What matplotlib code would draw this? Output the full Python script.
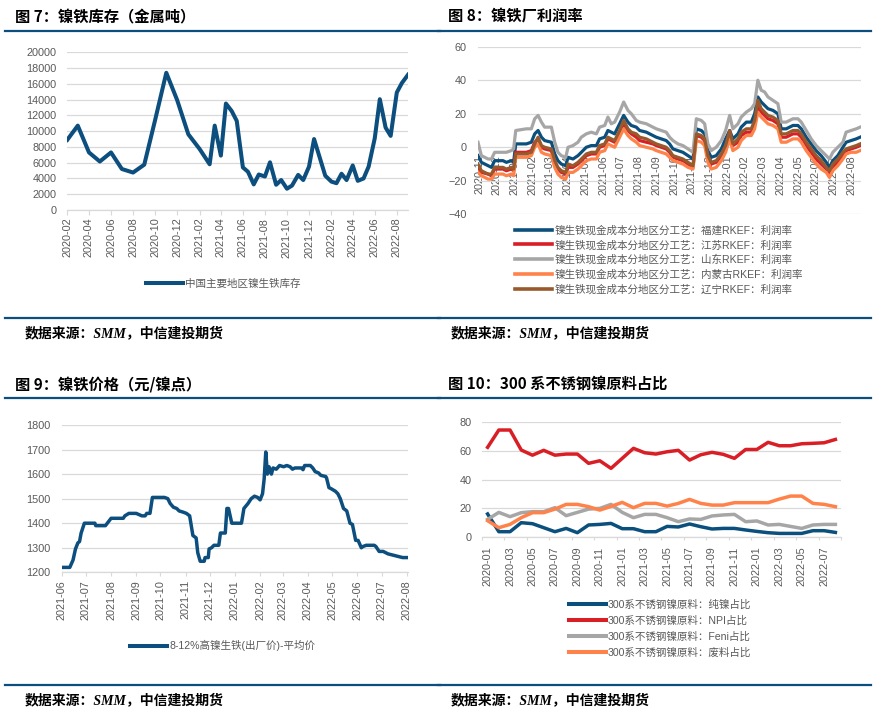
import matplotlib
matplotlib.use('Agg')
import matplotlib.pyplot as plt
import numpy as np
import pandas as pd
from matplotlib.lines import Line2D

plt.rcParams['font.family'] = ['Liberation Sans', 'Noto Sans CJK SC', 'DejaVu Sans']
CJK = ['Noto Sans CJK SC', 'DejaVu Sans']

# ---------------- data ----------------
# Fig 7: nickel pig iron inventory (metal tons)
p7_dates = ['2020-02-01', '2020-03-01', '2020-04-01', '2020-05-01', '2020-06-01', '2020-07-01',
            '2020-08-01', '2020-09-01', '2020-10-01', '2020-11-01', '2020-12-01', '2021-01-01',
            '2021-02-01', '2021-03-01', '2021-03-15', '2021-04-01', '2021-04-15', '2021-05-01',
            '2021-05-15', '2021-06-01', '2021-06-15', '2021-07-01', '2021-07-15', '2021-08-01',
            '2021-08-15', '2021-09-01', '2021-09-15', '2021-10-01', '2021-10-15', '2021-11-01',
            '2021-11-15', '2021-12-01', '2021-12-15', '2022-01-01', '2022-01-15', '2022-02-01',
            '2022-02-15', '2022-03-01', '2022-03-15', '2022-04-01', '2022-04-15', '2022-05-01',
            '2022-05-15', '2022-06-01', '2022-06-15', '2022-07-01', '2022-07-15', '2022-08-01',
            '2022-08-15', '2022-09-01']
p7_inventory = [8900, 10700, 7300, 6150, 7300, 5200, 4750, 5750, 11400, 17400, 13950, 9600,
                7750, 5800, 10700, 6900, 13500, 12550, 11300, 5400, 4850, 3250, 4500, 4250,
                6050, 3200, 3800, 2700, 3100, 4450, 3800, 5500, 9000, 6450, 4350, 3600,
                3400, 4600, 3800, 5650, 3700, 4000, 5500, 9100, 14050, 10450, 9400, 14900,
                16100, 17150]
p7_label = '中国主要地区镍生铁库存'
p7_ticks = ['2020-02', '2020-04', '2020-06', '2020-08', '2020-10', '2020-12', '2021-02',
            '2021-04', '2021-06', '2021-08', '2021-10', '2021-12', '2022-02', '2022-04',
            '2022-06', '2022-08']

# Fig 8: profit margins (months since 2020-11)
p8_month = [-0.06, 0.13, 0.51, 0.70, 0.88, 1.35, 1.54, 1.82, 1.95, 2.07, 2.67, 2.95, 3.14, 3.33,
            3.52, 3.70, 4.08, 4.27, 4.45, 4.64, 4.89, 5.02, 5.30, 5.58, 5.77, 6.05, 6.33, 6.62,
            6.80, 7.09, 7.27, 7.46, 7.65, 7.93, 8.16, 8.40, 8.59, 8.87, 9.06, 9.44, 9.81, 10.00,
            10.28, 10.56, 10.75, 10.94, 11.22, 11.50, 11.79, 12.07, 12.26, 12.54, 12.73, 12.91,
            13.10, 13.38, 13.67, 13.91, 14.14, 14.32, 14.61, 14.79, 15.08, 15.36, 15.55, 15.73,
            15.92, 16.11, 16.30, 16.58, 16.86, 17.05, 17.33, 17.52, 17.71, 17.99, 18.18, 18.46,
            18.74, 19.02, 19.30, 19.59, 19.77, 19.96, 20.24, 20.53, 20.71, 20.99, 21.28, 21.50]
p8_fujian = [-5, -9, -11, -12, -8, -8, -9, -8, -9, 2, 2, 3, 8, 10, 6, 4, 3, -4, -8, -10,
             -11, -6, -7, -5, -3, 0, 1, 1, 5, 6, 10, 9, 8, 14, 19, 15, 13, 12, 10, 9,
             7, 6, 5, 4, 2, -1, -2, -3, -5, -7, 11, 10, 8, -2, -6, -5, -1, 5, 10, 5,
             8, 12, 15, 15, 20, 30, 27, 25, 23, 22, 20, 11, 11, 12, 13, 13, 11, 6, 2, -2,
             -5, -9, -12, -8, -5, 0, 3, 4, 5, 6]
p8_jiangsu = [-12, -15, -16, -17, -13, -13, -14, -13, -14, -3, -3, -2, 3, 5, 0, -1, -2, -9, -13, -15,
              -16, -12, -12, -10, -8, -5, -4, -4, 0, 1, 5, 4, 3, 9, 14, 10, 8, 6, 4, 3,
              2, 1, 0, -1, -3, -6, -7, -8, -10, -12, 7, 6, 4, -6, -10, -9, -5, 0, 8, 1,
              3, 7, 9, 9, 14, 24, 21, 19, 17, 16, 14, 6, 6, 7, 8, 8, 6, 1, -3, -7,
              -10, -13, -16, -12, -9, -5, -2, -1, 0, 1]
p8_shandong = [3, -5, -7, -7, -3, -3, -3, -2, -1, 10, 11, 11, 17, 19, 15, 12, 12, 3, -3, -5,
               -6, 0, 1, 3, 6, 8, 9, 8, 12, 13, 18, 14, 15, 21, 27, 22, 20, 16, 15, 14,
               12, 11, 10, 9, 6, 4, 2, 1, -1, -3, 17, 16, 14, 2, -2, 0, 4, 10, 19, 11,
               14, 18, 21, 23, 26, 40, 34, 33, 30, 28, 26, 15, 15, 16, 17, 17, 15, 10, 5, 1,
               -2, -5, -7, -3, 0, 3, 9, 10, 11, 12]
p8_neimeng = [-15, -17, -19, -19, -16, -16, -17, -16, -17, -6, -6, -5, 0, 2, -3, -4, -5, -12, -16, -18,
              -19, -15, -15, -13, -11, -8, -7, -7, -3, -2, 2, 1, 0, 6, 11, 7, 5, 3, 1, 0,
              -1, -2, -3, -4, -6, -8, -9, -10, -12, -13, 4, 3, 1, -9, -13, -12, -8, -3, 5, -2,
              0, 4, 7, 7, 11, 21, 18, 16, 14, 13, 11, 3, 3, 4, 5, 5, 3, -2, -6, -10,
              -13, -15, -18, -14, -11, -7, -4, -3, -3, -2]
p8_liaoning = [-10, -14, -16, -16, -12, -12, -13, -12, -13, -4, -4, -3, 2, 6, 1, 0, -1, -8, -12, -14,
               -15, -10, -11, -9, -7, -4, -3, -3, 1, 2, 6, 5, 4, 10, 16, 11, 9, 8, 6, 5,
               3, 2, 1, 0, -2, -5, -6, -7, -9, -11, 8, 7, 5, -5, -9, -8, -4, 1, 10, 2,
               5, 9, 11, 11, 16, 28, 23, 21, 19, 18, 16, 8, 8, 9, 10, 10, 8, 3, -1, -5,
               -8, -12, -14, -10, -7, -3, -1, 0, 1, 2]
p8_labels = ['镍生铁现金成本分地区分工艺：福建RKEF：利润率',
             '镍生铁现金成本分地区分工艺：江苏RKEF：利润率',
             '镍生铁现金成本分地区分工艺：山东RKEF：利润率',
             '镍生铁现金成本分地区分工艺：内蒙古RKEF：利润率',
             '镍生铁现金成本分地区分工艺：辽宁RKEF：利润率']
p8_ticks = ['2020-11', '2020-12', '2021-01', '2021-02', '2021-03', '2021-04', '2021-05',
            '2021-06', '2021-07', '2021-08', '2021-09', '2021-10', '2021-11', '2021-12',
            '2022-01', '2022-02', '2022-03', '2022-04', '2022-05', '2022-06', '2022-07', '2022-08']

# Fig 9: NPI price
p9_dates = ['2021-06-01', '2021-06-11', '2021-06-15', '2021-06-18', '2021-06-21', '2021-06-23',
            '2021-06-25', '2021-06-29', '2021-07-12', '2021-07-13', '2021-07-25', '2021-08-01',
            '2021-08-16', '2021-08-18', '2021-08-23', '2021-09-01', '2021-09-08', '2021-09-12',
            '2021-09-14', '2021-09-18', '2021-09-21', '2021-10-06', '2021-10-10', '2021-10-13',
            '2021-10-17', '2021-10-21', '2021-10-24', '2021-10-29', '2021-11-02', '2021-11-06',
            '2021-11-10', '2021-11-14', '2021-11-16', '2021-11-19', '2021-11-24', '2021-11-25',
            '2021-11-29', '2021-11-30', '2021-12-03', '2021-12-06', '2021-12-12', '2021-12-14',
            '2021-12-20', '2021-12-22', '2021-12-24', '2021-12-28', '2022-01-09', '2022-01-12',
            '2022-01-17', '2022-01-21', '2022-01-25', '2022-01-29', '2022-02-01', '2022-02-04',
            '2022-02-06', '2022-02-08', '2022-02-10', '2022-02-12', '2022-02-15', '2022-02-17',
            '2022-02-21', '2022-02-25', '2022-03-02', '2022-03-06', '2022-03-10', '2022-03-13',
            '2022-03-16', '2022-03-24', '2022-03-26', '2022-03-28', '2022-04-04', '2022-04-07',
            '2022-04-10', '2022-04-14', '2022-04-17', '2022-04-23', '2022-04-24', '2022-04-27',
            '2022-04-30', '2022-05-05', '2022-05-08', '2022-05-11', '2022-05-15', '2022-05-19',
            '2022-05-21', '2022-05-23', '2022-05-26', '2022-05-30', '2022-06-02', '2022-06-06',
            '2022-06-08', '2022-06-12', '2022-06-22', '2022-06-24', '2022-06-28', '2022-07-03',
            '2022-07-09', '2022-07-15', '2022-07-21', '2022-07-27', '2022-08-02']
p9_price = [1220, 1220, 1250, 1295, 1320, 1325, 1360, 1400, 1400, 1390,
            1390, 1420, 1420, 1430, 1440, 1440, 1430, 1430, 1440, 1440,
            1505, 1505, 1500, 1480, 1465, 1460, 1450, 1445, 1440, 1430,
            1350, 1340, 1280, 1245, 1245, 1260, 1260, 1295, 1300, 1310,
            1310, 1360, 1360, 1460, 1460, 1400, 1400, 1460, 1480, 1500,
            1510, 1505, 1495, 1520, 1580, 1690, 1600, 1630, 1600, 1625,
            1620, 1635, 1630, 1635, 1630, 1620, 1625, 1625, 1618, 1635,
            1635, 1625, 1610, 1605, 1595, 1590, 1585, 1545, 1540, 1530,
            1520, 1500, 1460, 1450, 1425, 1400, 1395, 1330, 1330, 1300,
            1305, 1310, 1310, 1305, 1285, 1285, 1275, 1270, 1265, 1260, 1260]
p9_label = '8-12%高镍生铁(出厂价)-平均价'

# Fig 10: 300-series nickel raw material shares
p10_months = ['2020-01', '2020-02', '2020-03', '2020-04', '2020-05', '2020-06', '2020-07', '2020-08',
              '2020-09', '2020-10', '2020-11', '2020-12', '2021-01', '2021-02', '2021-03', '2021-04',
              '2021-05', '2021-06', '2021-07', '2021-08', '2021-09', '2021-10', '2021-11', '2021-12',
              '2022-01', '2022-02', '2022-03', '2022-04', '2022-05', '2022-06', '2022-07', '2022-08']
p10_pure = [15.9, 3.5, 3.5, 9.8, 9.1, 6.3, 3.5, 5.8, 2.8, 8.2, 8.6, 9.3, 5.6, 5.6, 3.5, 3.5,
            7.2, 6.8, 8.9, 7.0, 5.4, 5.8, 5.8, 4.7, 3.7, 2.8, 2.3, 2.3, 2.3, 4.2, 4.2, 3.0]
p10_npi = [62.5, 74.6, 74.6, 60.6, 57.0, 60.4, 57.0, 57.8, 57.8, 51.3, 53.1, 47.8, 54.8, 61.8, 58.7, 57.8,
           59.4, 60.4, 53.6, 57.3, 59.0, 57.6, 54.8, 61.0, 61.0, 66.0, 63.6, 63.6, 65.0, 65.3, 65.7, 68.0]
p10_feni = [12.1, 17.0, 14.0, 16.8, 17.5, 17.5, 20.3, 14.7, 17.0, 19.3, 19.8, 22.6, 17.0, 13.3, 15.6, 15.6,
            13.3, 10.5, 12.4, 12.1, 14.5, 15.2, 15.6, 10.5, 11.0, 8.2, 8.6, 7.2, 5.8, 8.2, 8.6, 8.6]
p10_scrap = [11.2, 6.3, 8.6, 13.3, 16.8, 16.8, 19.3, 22.6, 22.6, 21.0, 18.6, 21.2, 24.0, 20.3, 23.3, 23.3,
             21.4, 23.3, 26.1, 23.3, 22.1, 22.1, 23.8, 23.8, 23.8, 23.8, 26.3, 28.4, 28.4, 23.3, 22.6, 21.0]
p10_labels = ['300系不锈钢镍原料：纯镍占比', '300系不锈钢镍原料：NPI占比',
              '300系不锈钢镍原料：Feni占比', '300系不锈钢镍原料：废料占比']

titles = ['图 7：镍铁库存（金属吨）', '图 8：镍铁厂利润率',
          '图 9：镍铁价格（元/镍点）', '图 10：300 系不锈钢镍原料占比']
source = '数据来源：SMM，中信建投期货'

# ---------------- style ----------------
NAVY = '#0C4E7E'
BLUE = '#0B4F7C'
RED = '#D91E26'
GRAY = '#A6A6A6'
ORANGE = '#FF824A'
BROWN = '#98592D'
GRID = '#D9D9D9'
TXT = '#595959'

W, H = 878, 714
fig = plt.figure(figsize=(W / 100, H / 100), dpi=100)


def fx(x):
    return x / W


def fy(y):
    return 1 - y / H


def rect(l, t, r, b):
    return [fx(l), fy(b), (r - l) / W, (b - t) / H]


# headers / separators / footers
for (x0, x1, ytop, ybot, tx, ty, sx, sy, title) in [
        (5, 440, 31, 318, 15, 16, 25, 333, titles[0]),
        (438, 871, 31, 318, 448, 16, 451, 333, titles[1]),
        (5, 440, 398, 685, 15, 384, 25, 700, titles[2]),
        (438, 871, 398, 685, 448, 384, 451, 700, titles[3])]:
    fig.add_artist(Line2D([fx(x0), fx(x1)], [fy(ytop), fy(ytop)], color=NAVY, lw=1.6))
    fig.add_artist(Line2D([fx(x0), fx(x1)], [fy(ybot), fy(ybot)], color=NAVY, lw=1.6))
    fig.text(fx(tx), fy(ty), title, fontsize=11, fontweight='bold', family=CJK,
             va='center', ha='left', color='black')
    fig.text(fx(sx), fy(sy), source, fontsize=10, fontweight='bold', style='italic',
             family=['Liberation Serif', 'Noto Sans CJK SC'], va='center', ha='left',
             color='black')


def style_axes(ax, ypad):
    for s in ['left', 'right', 'top']:
        ax.spines[s].set_visible(False)
    ax.spines['bottom'].set_color(GRID)
    ax.spines['bottom'].set_linewidth(0.9)
    ax.grid(axis='y', color=GRID, lw=0.9)
    ax.set_axisbelow(True)
    ax.tick_params(axis='y', length=0, pad=ypad, labelsize=7.8, labelcolor=TXT)
    ax.tick_params(axis='x', labelsize=7.8, labelcolor=TXT, color=GRID)


def legend(handles, labels, cx, cy, spacing):
    fig.legend(handles, labels, loc='center', bbox_to_anchor=(fx(cx), fy(cy)),
               frameon=False, borderpad=0, handlelength=3.5, handletextpad=0.2,
               labelspacing=spacing, labelcolor=TXT,
               prop={'size': 7.6, 'family': ['Liberation Sans', 'Noto Sans CJK SC']})


# ---------------- Fig 7 ----------------
ax7 = fig.add_axes(rect(67.3, 52.3, 408, 210))
d7 = pd.to_datetime(p7_dates)
ax7.plot(d7, p7_inventory, color=NAVY, lw=2.9, solid_joinstyle='round')
ax7.set_ylim(0, 20000)
ax7.set_yticks(range(0, 20001, 2000))
ax7.set_xlim(pd.Timestamp('2020-02-01'), pd.Timestamp('2022-09-01'))
ax7.set_xticks(pd.to_datetime([t + '-01' for t in p7_ticks]))
ax7.set_xticklabels(p7_ticks, rotation=90)
style_axes(ax7, 7.6)
ax7.tick_params(axis='x', length=3.5, pad=2)
legend([Line2D([], [], color=NAVY, lw=2.9)], [p7_label], 223, 284, 0.3)

# ---------------- Fig 8 ----------------
ax8 = fig.add_axes(rect(478, 46.7, 861, 214.3))
ax8.spines['bottom'].set_position(('data', 0))
series8 = [(p8_fujian, BLUE), (p8_jiangsu, RED), (p8_shandong, GRAY),
           (p8_neimeng, ORANGE), (p8_liaoning, BROWN)]
h8 = []
for vals, col in series8:
    ax8.plot(p8_month, vals, color=col, lw=2.3, zorder=3, solid_joinstyle='round')
    h8.append(Line2D([], [], color=col, lw=2.6))
ax8.set_ylim(-40, 60)
ax8.set_yticks(range(-40, 61, 20))
ax8.set_xlim(-0.06, 21.55)
ax8.set_xticks(range(len(p8_ticks)))
ax8.set_xticklabels(p8_ticks, rotation=90)
style_axes(ax8, 8)
ax8.spines['bottom'].set_visible(False)
ax8.tick_params(axis='x', length=0, pad=5.5)
legend(h8, p8_labels, 659, 259.7, 0.4)

# ---------------- Fig 9 ----------------
ax9 = fig.add_axes(rect(61.7, 425, 408.3, 572.3))
d9 = pd.to_datetime(p9_dates)
ax9.plot(d9, p9_price, color=NAVY, lw=2.5, solid_joinstyle='round')
ax9.set_ylim(1200, 1800)
ax9.set_yticks(range(1200, 1801, 100))
ax9.set_xlim(pd.Timestamp('2021-06-01'), pd.Timestamp('2022-08-03'))
m9 = pd.date_range('2021-06-01', '2022-08-01', freq='MS')
ax9.set_xticks(m9)
ax9.set_xticklabels([d.strftime('%Y-%m') for d in m9], rotation=90)
style_axes(ax9, 8)
ax9.tick_params(axis='x', length=3, pad=2.5)
legend([Line2D([], [], color=NAVY, lw=2.9)], [p9_label], 223, 645.7, 0.3)

# ---------------- Fig 10 ----------------
ax10 = fig.add_axes(rect(482, 422.3, 841, 536.7))
x10 = np.arange(len(p10_months))
series10 = [(p10_pure, BLUE), (p10_npi, RED), (p10_feni, GRAY), (p10_scrap, ORANGE)]
h10 = []
for vals, col in series10:
    ax10.plot(x10, vals, color=col, lw=2.5, solid_joinstyle='round')
    h10.append(Line2D([], [], color=col, lw=2.9))
ax10.set_ylim(0, 80)
ax10.set_yticks(range(0, 81, 20))
ax10.set_xlim(-0.5, len(p10_months) - 0.5)
ax10.set_xticks(np.arange(-0.5, len(p10_months), 2))
ax10.set_xticklabels([])
ax10.set_xticks(x10[::2], minor=True)
ax10.set_xticklabels(p10_months[::2], minor=True, rotation=90)
style_axes(ax10, 7.7)
ax10.tick_params(axis='x', which='major', length=2.4, color=GRID)
ax10.tick_params(axis='x', which='minor', length=0, pad=7, labelsize=7.8, labelcolor=TXT)
legend(h10, p10_labels, 660, 628.8, 0.55)

fig.savefig('out.png', dpi=100)
